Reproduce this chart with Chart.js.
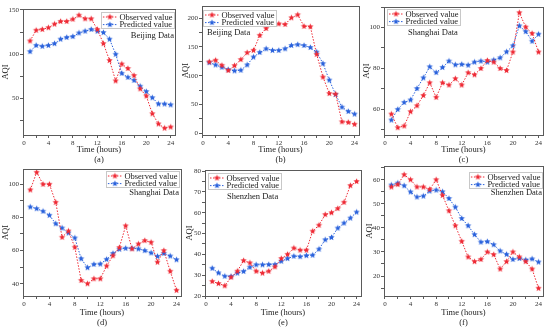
<!DOCTYPE html>
<html><head><meta charset="utf-8">
<script src="https://cdn.jsdelivr.net/npm/chart.js@4.4.0/dist/chart.umd.min.js"></script>
<style>
html,body{margin:0;padding:0;background:#fff;width:550px;height:329px;overflow:hidden;position:relative}
canvas{position:absolute}
</style></head><body>
<script>
// ---- data ----
const hours = [1,2,3,4,5,6,7,8,9,10,11,12,13,14,15,16,17,18,19,20,21,22,23,24];
const seriesNames = ['Observed value', 'Predicted value'];
const xTickLabels = [0, 4, 8, 12, 16, 20, 24];
const xTitle = 'Time (hours)';
const yTitle = 'AQI';

const obsA  = [115,127,128,130,134,137,137,139.5,144,140,140,128,112,93,70,89,84,76,61,53,33,21.5,16.7,18];
const predA = [103,110,109,110,112,117,119,120,124,126,128,126,124.5,117,100,78.5,74,70.6,64,58,51,44,44,43];

const obsB  = [124,126.7,118,109,117.5,128,140,144,170,182,190,190,189,200.5,205.7,185.7,185,137,97.5,69,68,20,19,15.6];
const predB = [122.7,118.7,114.7,110.6,108.4,109.5,118.7,132.4,140.4,146.7,143.9,143.9,146.7,152.5,154,152.5,149,141,121,92.3,67.4,45.4,38,33.3];

const obsC  = [57.7,51.1,51.9,58.9,61.8,66.8,73,65.9,73,71.9,75,71.9,77.9,76.9,80,83.9,83.1,80,79,88,107.2,100.2,97.1,88];
const predC = [54.8,60,63.4,64.6,70.2,75.4,80.8,78,80.5,83.6,81.8,82,81.6,83.1,83.6,83.1,84.1,85.2,88.1,91.1,100.8,98,93.3,96.7];

const obsD  = [96.6,107.2,100,100,89.1,68,71.8,62,42,40,43,43,50.7,56.9,61.8,74.9,61,64,66,65,53,60,47.5,36];
const predD = [86.3,85.3,83.7,81.3,76.2,73.6,70.6,67.6,55.1,49.7,51.7,51.9,54.7,58.3,60.8,61.4,61.4,61,60,58.6,56.5,58.3,56.7,54.5];

const obsE  = [27,26,24.9,29,31.9,37,35.9,31.9,31,31.9,34,38,40,43,42,42,51.1,54,59.1,60,62,65,73,75];
const predE = [33.3,31.1,29.5,29.4,31,31.8,33.8,35,35,35.1,35.1,36.7,38,39.1,38.9,39.4,39.6,42.5,47,48.1,52.6,55,57.4,60.3];

const obsF  = [57,58,62.1,60,57,57,56,60,53.5,47.1,40.9,34.4,27.9,26,26.9,30,28.9,22.9,26,30,27.9,26,22.9,14.9];
const predF = [57.8,58.6,57.5,54.9,52.8,53.2,55.3,55.7,55,52.2,48.6,43.9,40.9,37.2,34.1,34.3,33,30.4,29,26.9,27.3,26.7,27.1,25.8];

const panelTags = ['(a)','(b)','(c)','(d)','(e)','(f)'];
const cityLabels = ['Beijing Data','Beijing Data','Shanghai Data','Shanghai Data','Shenzhen Data','Shenzhen Data'];

// ---- styles / layout ----
const RED = '#ee2a35', BLUE = '#2a62dc';
const FONT = "'Liberation Serif', 'Times New Roman', serif";
const FRAME = '#5a5a5a';

function makeStar(color, R) {
  const c = document.createElement('canvas');
  const s = Math.ceil(R * 2 + 2);
  c.width = s; c.height = s;
  const g = c.getContext('2d');
  g.fillStyle = color;
  g.beginPath();
  for (let i = 0; i < 10; i++) {
    const r = i % 2 === 0 ? R : R * 0.45;
    const a = -Math.PI / 2 + i * Math.PI / 5;
    const x = s / 2 + r * Math.cos(a), y = s / 2 + r * Math.sin(a);
    i === 0 ? g.moveTo(x, y) : g.lineTo(x, y);
  }
  g.closePath(); g.fill();
  return c;
}
const starR = makeStar(RED, 3.3), starB = makeStar(BLUE, 3.3);

const panels = [
  {obs:obsA, pred:predA, ymin:9,    ymax:151,   major:50, minor:25, box:[0,0,180,165],   pad:[23,3,9,30], leg:{side:'r',dx:0,dy:3},  lab:{side:'r',dx:-1,dy:27}},
  {obs:obsB, pred:predB, ymin:-3,   ymax:221,   major:50, minor:25, box:[180,0,184,165], pad:[22,4,6,30], leg:{side:'l',dx:1,dy:4},  lab:{side:'l',dx:5,dy:27}},
  {obs:obsC, pred:predC, ymin:47.5, ymax:110,   major:20, minor:10, box:[361,0,189,165], pad:[23,7,7,30], leg:{side:'l',dx:3,dy:2},  lab:{side:'l',dx:24,dy:26}},
  {obs:obsD, pred:predD, ymin:32.6, ymax:109.2, major:20, minor:10, box:[0,160,186,168], pad:[23,3,9,32], leg:{side:'r',dx:-1,dy:2}, lab:{side:'r',dx:-2,dy:24}},
  {obs:obsE, pred:predE, ymin:20,   ymax:80.5,  major:10, minor:5,  box:[184,160,182,168],pad:[21,3,10,32],leg:{side:'l',dx:3,dy:3},  lab:{side:'l',dx:22,dy:27}},
  {obs:obsF, pred:predF, ymin:11.7, ymax:65.7,  major:10, minor:5,  box:[364,160,186,168],pad:[20,7,6,32], leg:{side:'r',dx:0,dy:6},  lab:{side:'r',dx:-1,dy:27}},
];

const isMult = (v, s) => Math.abs(v / s - Math.round(v / s)) < 1e-6;
// tick values at every multiple of step inside [lo, hi]
function stepTicks(lo, hi, step) {
  const out = [];
  for (let v = Math.ceil(lo / step - 1e-9) * step; v <= hi + 1e-9; v += step) out.push({value: Math.round(v * 1000) / 1000});
  return out;
}

const panelPlugin = {
  id: 'panelDeco',
  afterDraw(chart, args, opts) {
    const ctx = chart.ctx, a = chart.chartArea;
    ctx.save();
    // frame
    ctx.strokeStyle = FRAME; ctx.lineWidth = 1;
    ctx.strokeRect(Math.round(a.left) + 0.5, Math.round(a.top) + 0.5,
                   Math.round(a.right - a.left), Math.round(a.bottom - a.top));
    // legend
    ctx.font = '8.5px ' + FONT;
    const tw = Math.max(...seriesNames.map(n => ctx.measureText(n).width));
    const w = 19 + tw + 2, h = 17;
    const L = opts.leg;
    const bx = L.side === 'r' ? a.right + L.dx - w : a.left + L.dx;
    const by = a.top + L.dy;
    ctx.fillStyle = '#fff';
    ctx.fillRect(bx, by, w, h);
    ctx.strokeStyle = '#c8c8c8';
    ctx.strokeRect(Math.round(bx) + 0.5, Math.round(by) + 0.5, Math.round(w) - 1, h - 1);
    const rows = [[RED, starR], [BLUE, starB]];
    rows.forEach((r, i) => {
      const y = by + 5 + i * 7.6;
      ctx.strokeStyle = r[0]; ctx.lineWidth = 1; ctx.setLineDash([1.5, 1.5]);
      ctx.beginPath(); ctx.moveTo(bx + 2, y); ctx.lineTo(bx + 16, y); ctx.stroke();
      ctx.setLineDash([]);
      ctx.drawImage(r[1], bx + 9 - r[1].width / 2, y - r[1].height / 2);
      ctx.fillStyle = '#222'; ctx.textBaseline = 'middle'; ctx.textAlign = 'left';
      ctx.fillText(seriesNames[i], bx + 18.5, y + 0.5);
    });
    // city label
    const B = opts.lab;
    ctx.fillStyle = '#222';
    ctx.textAlign = B.side === 'r' ? 'right' : 'left';
    ctx.fillText(opts.city, (B.side === 'r' ? a.right : a.left) + B.dx, a.top + B.dy);
    ctx.restore();
  }
};

panels.forEach((p, k) => {
  const cv = document.createElement('canvas');
  const [cx, cy, cw, ch] = p.box;
  cv.width = cw; cv.height = ch;
  cv.style.left = cx + 'px'; cv.style.top = cy + 'px';
  cv.style.width = cw + 'px'; cv.style.height = ch + 'px';
  document.body.appendChild(cv);
  const [wy, pr, pt, hx] = p.pad;
  const pts = arr => hours.map((h, i) => ({x: h, y: arr[i]}));
  new Chart(cv, {
    type: 'line',
    data: {
      datasets: [
        {label: seriesNames[0], data: pts(p.obs), borderColor: RED, borderWidth: 1, borderDash: [1.5, 1.5],
         pointStyle: starR, pointRadius: 3, tension: 0, fill: false},
        {label: seriesNames[1], data: pts(p.pred), borderColor: BLUE, borderWidth: 1, borderDash: [1.5, 1.5],
         pointStyle: starB, pointRadius: 3, tension: 0, fill: false},
      ]
    },
    options: {
      responsive: false, animation: false, devicePixelRatio: 1,
      layout: {padding: {left: 0, right: pr, top: pt, bottom: 0}},
      plugins: {
        legend: {display: false}, tooltip: {enabled: false},
        panelDeco: {leg: p.leg, lab: p.lab, city: cityLabels[k]}
      },
      scales: {
        x: {
          type: 'linear', min: -0.15, max: 24.7,
          border: {display: false},
          grid: {drawOnChartArea: false, drawTicks: true, tickLength: 3, color: FRAME},
          ticks: {autoSkip: false, maxRotation: 0, padding: 1, color: '#333',
                  font: {family: FONT, size: 7},
                  callback: v => xTickLabels.includes(v) ? String(v) : ''},
          afterBuildTicks: s => { s.ticks = stepTicks(0, 24, 2); },
          afterFit: s => { s.height = hx; },
          title: {display: true, text: [xTitle, panelTags[k]], color: '#222',
                  font: {family: FONT, size: 8.5}, padding: {top: 0, bottom: 0}}
        },
        y: {
          min: p.ymin, max: p.ymax,
          border: {display: false},
          grid: {drawOnChartArea: false, drawTicks: true, tickLength: 3, color: FRAME},
          ticks: {autoSkip: false, padding: 1, color: '#333',
                  font: {family: FONT, size: 7},
                  callback: v => isMult(v, p.major) ? String(Math.round(v)) : ''},
          afterBuildTicks: s => { s.ticks = stepTicks(p.ymin, p.ymax, p.minor); },
          afterFit: s => { s.width = wy; },
          title: {display: true, text: yTitle, color: '#222',
                  font: {family: FONT, size: 8.5}, padding: {top: 1, bottom: 0}}
        }
      }
    },
    plugins: [panelPlugin]
  });
});
</script>
</body></html>
